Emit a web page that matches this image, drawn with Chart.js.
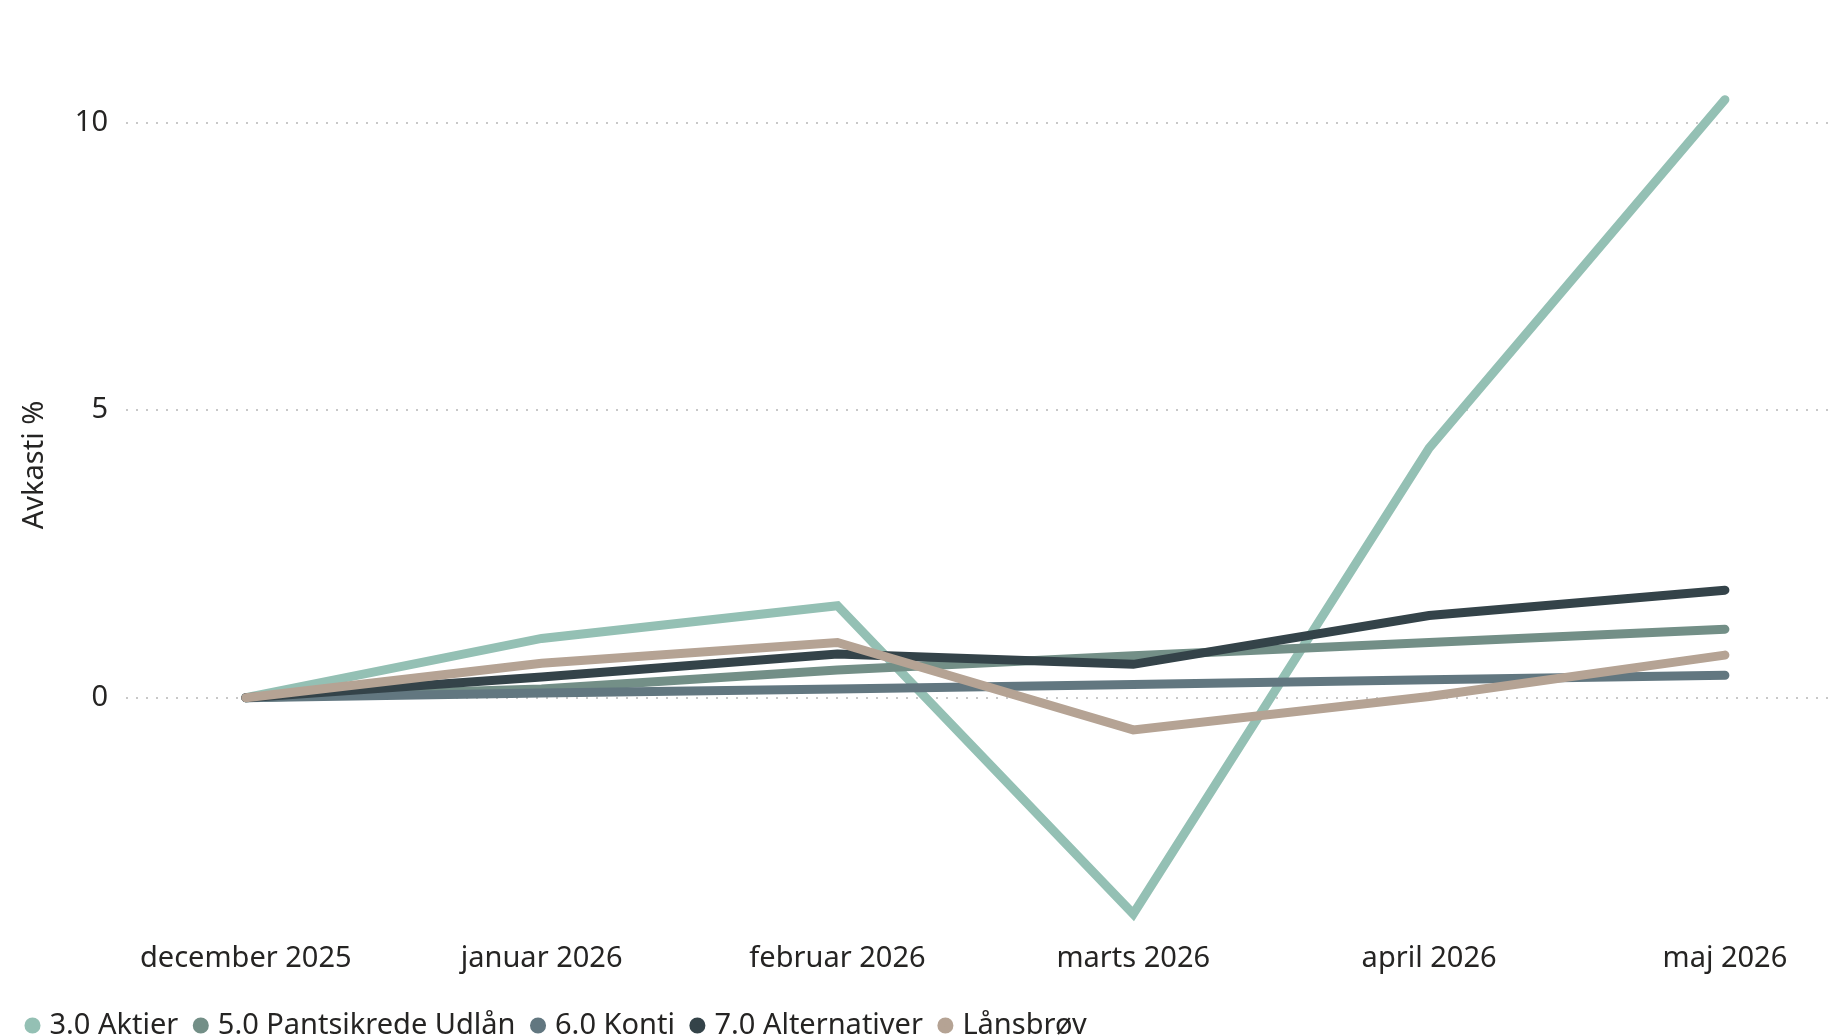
<!DOCTYPE html>
<html>
<head>
<meta charset="utf-8">
<script src="https://cdn.jsdelivr.net/npm/chart.js@4"></script>
<style>
  html, body { margin: 0; padding: 0; background: #fff; }
  #wrap { width: 1832px; height: 1036px; position: relative; }
</style>
</head>
<body>
<div id="wrap"><canvas id="avkasti_chart"></canvas></div>
<script>
// months on the x axis
var months = ['december 2025', 'januar 2026', 'februar 2026', 'marts 2026', 'april 2026', 'maj 2026'];

// return per series, in %
var aktier = [0, 1.03, 1.60, -3.76, 4.34, 10.40];
var pantsikrede = [0, 0.15, 0.48, 0.73, 0.96, 1.19];
var konti = [0, 0.08, 0.15, 0.23, 0.31, 0.39];
var alternativer = [0, 0.36, 0.76, 0.58, 1.43, 1.87];
var lansbrov = [0, 0.60, 0.96, -0.56, 0.02, 0.74];

var seriesNames = ['3.0 Aktier', '5.0 Pantsikrede Udlån', '6.0 Konti', '7.0 Alternativer', 'Lånsbrøv'];
var seriesColors = ['#94c0b4', '#738f87', '#627780', '#344349', '#b5a394'];
var yTicks = [0, 5, 10];
var yTitle = 'Avkasti %';

var fontFamily = "'Noto Sans', 'Open Sans', sans-serif";
var textColor = '#252423';

function toPoints(values) {
    return values.map(function(v, i) { return {x: i, y: v}; });
}

var allSeries = [aktier, pantsikrede, konti, alternativer, lansbrov];
var datasets = allSeries.map(function(values, idx) {
    return {
        label: seriesNames[idx],
        data: toPoints(values),
        borderColor: seriesColors[idx],
        backgroundColor: seriesColors[idx],
        borderWidth: 9,
        borderCapStyle: 'round',
        borderJoinStyle: 'miter',
        pointRadius: 0,
        pointHoverRadius: 0,
        tension: 0,
        fill: false,
        clip: false,
        // later series drawn on top
        order: allSeries.length - idx
    };
});

// y axis title, drawn a bit above the middle of the plot like the original
var yTitlePlugin = {
    id: 'yTitle',
    afterDraw: function(chart) {
        var c = chart.ctx;
        c.save();
        c.translate(35, 465);
        c.rotate(-Math.PI / 2);
        c.font = '29px ' + fontFamily;
        c.fillStyle = textColor;
        c.textAlign = 'center';
        c.textBaseline = 'middle';
        c.fillText(yTitle, 0, 0);
        c.restore();
    }
};

var ctx = document.getElementById('avkasti_chart');
window.myChart = new Chart(ctx, {
    type: 'line',
    data: { datasets: datasets },
    plugins: [yTitlePlugin],
    options: {
        responsive: true,
        maintainAspectRatio: false,
        animation: false,
        layout: { padding: { left: 10, right: 0, top: 64, bottom: -14 } },
        plugins: {
            tooltip: { enabled: false },
            legend: {
                position: 'bottom',
                align: 'start',
                labels: {
                    usePointStyle: true,
                    pointStyle: 'circle',
                    boxWidth: 5,
                    boxHeight: 5,
                    padding: 20,
                    color: textColor,
                    font: { family: fontFamily, size: 29 },
                    sort: function(a, b) { return a.datasetIndex - b.datasetIndex; },
                    generateLabels: function(chart) {
                        var items = Chart.defaults.plugins.legend.labels.generateLabels(chart);
                        items.forEach(function(it) {
                            it.lineWidth = 9;
                            it.strokeStyle = it.fillStyle;
                        });
                        return items;
                    }
                }
            }
        },
        scales: {
            x: {
                type: 'linear',
                min: -0.405,
                max: 5.362,
                afterBuildTicks: function(axis) {
                    axis.ticks = months.map(function(m, i) { return {value: i}; });
                },
                afterFit: function(axis) { axis.height = 62; },
                ticks: {
                    autoSkip: false,
                    maxRotation: 0,
                    padding: 4,
                    color: textColor,
                    font: { family: fontFamily, size: 29 },
                    callback: function(value) { return months[value]; }
                },
                grid: { display: false },
                border: { display: false }
            },
            y: {
                min: -4.023,
                max: 11.02,
                afterBuildTicks: function(axis) {
                    axis.ticks = yTicks.map(function(v) { return {value: v}; });
                },
                afterFit: function(axis) { axis.width = 116; },
                ticks: {
                    padding: 18,
                    color: textColor,
                    font: { family: fontFamily, size: 29 }
                },
                grid: {
                    color: '#c8c8c8',
                    lineWidth: 2,
                    drawTicks: false
                },
                border: { display: false, dash: [2, 8] }
            }
        }
    }
});
</script>
</body>
</html>
